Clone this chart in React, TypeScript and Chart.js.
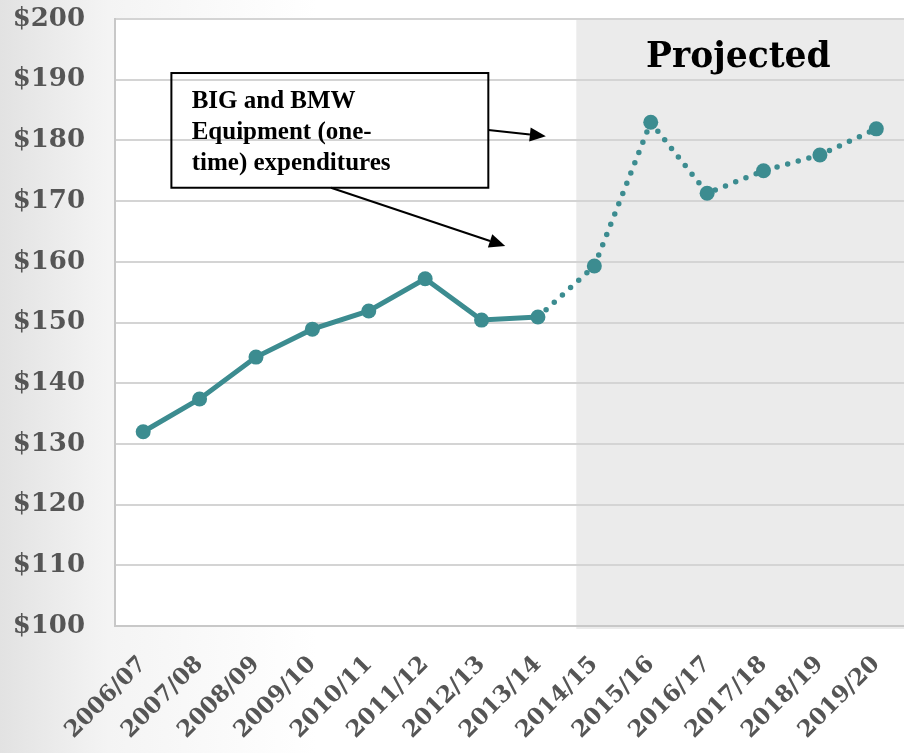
import React, { useEffect, useRef } from "react";
import { Chart, registerables } from "chart.js";

Chart.register(...registerables);

const categories = [
  "2006/07", "2007/08", "2008/09", "2009/10", "2010/11", "2011/12", "2012/13",
  "2013/14", "2014/15", "2015/16", "2016/17", "2017/18", "2018/19", "2019/20",
];
const spending = [132.0, 137.4, 144.3, 148.9, 151.9, 157.2, 150.4, 150.9, 159.3, 183.0, 171.3, 175.0, 177.6, 181.9];
const lastActualIndex = 7;
const projectedStart = 7.68;
const yMin = 100;
const yMax = 200;
const yStep = 10;
const projectedLabel = "Projected";
const annotationLines = ["BIG and BMW", "Equipment (one-", "time) expenditures"];

const TEAL = "#3c8c90";
const TICK_COLOR = "#555555";

function arrow(ctx: CanvasRenderingContext2D, x1: number, y1: number, x2: number, y2: number) {
  const ang = Math.atan2(y2 - y1, x2 - x1);
  const hl = 16, hw = 7;
  const bx = x2 - hl * Math.cos(ang);
  const by = y2 - hl * Math.sin(ang);
  ctx.beginPath();
  ctx.moveTo(x1, y1);
  ctx.lineTo(bx, by);
  ctx.stroke();
  ctx.beginPath();
  ctx.moveTo(x2, y2);
  ctx.lineTo(bx + hw * Math.sin(ang), by - hw * Math.cos(ang));
  ctx.lineTo(bx - hw * Math.sin(ang), by + hw * Math.cos(ang));
  ctx.closePath();
  ctx.fill();
}

const decorPlugin = {
  id: "decor",
  beforeDraw(chart: any) {
    const { ctx, chartArea: a, scales } = chart;
    const px = scales.x.getPixelForValue(projectedStart);
    ctx.save();
    ctx.fillStyle = "#ffffff";
    ctx.fillRect(a.left, a.top, px - a.left, a.bottom - a.top);
    ctx.fillStyle = "#ebebeb";
    ctx.fillRect(px, a.top, a.right - px, a.bottom - a.top + 3);
    ctx.restore();
  },
  afterDraw(chart: any) {
    const { ctx, chartArea: a, scales } = chart;
    const x = scales.x, y = scales.y;
    const px = x.getPixelForValue(projectedStart);
    ctx.save();
    // Projected title
    ctx.fillStyle = "#000";
    ctx.font = "bold 34.5px 'DejaVu Serif'";
    ctx.textAlign = "center";
    ctx.textBaseline = "alphabetic";
    ctx.fillText(projectedLabel, (px + a.right) / 2 - 2, y.getPixelForValue(192.1));

    // Annotation box
    const bl = x.getPixelForValue(0.5), br = x.getPixelForValue(6.12);
    const bt = y.getPixelForValue(191.1), bb = y.getPixelForValue(172.2);
    ctx.strokeStyle = "#000";
    ctx.lineWidth = 2;
    ctx.strokeRect(bl, bt, br - bl, bb - bt);
    ctx.font = "bold 25px 'Liberation Serif'";
    ctx.textAlign = "left";
    const tx = x.getPixelForValue(0.86);
    const baseVals = [185.3, 180.2, 175.1];
    annotationLines.forEach((l, i) => ctx.fillText(l, tx, y.getPixelForValue(baseVals[i])));

    // Arrows
    ctx.fillStyle = "#000";
    arrow(ctx, br, y.getPixelForValue(181.7), x.getPixelForValue(7.14), y.getPixelForValue(180.7));
    arrow(ctx, x.getPixelForValue(3.33), bb, x.getPixelForValue(6.42), y.getPixelForValue(162.6));
    ctx.restore();
  },
};

export default function App() {
  const ref = useRef<HTMLCanvasElement>(null);
  useEffect(() => {
    if (!ref.current) return;
    const chart = new Chart(ref.current, {
      type: "line",
      data: {
        labels: categories,
        datasets: [
          {
            data: spending,
            borderColor: TEAL,
            backgroundColor: TEAL,
            borderWidth: 5,
            pointRadius: 7.5,
            pointHoverRadius: 7.5,
            pointBorderWidth: 0,
            pointBackgroundColor: TEAL,
            tension: 0,
            borderCapStyle: "round",
            segment: {
              borderDash: (ctx: any) => (ctx.p0DataIndex >= lastActualIndex ? [0, 11] : undefined),
              borderWidth: (ctx: any) => (ctx.p0DataIndex >= lastActualIndex ? 5.5 : 5),
            },
          },
        ],
      },
      options: {
        responsive: false,
        animation: false,
        devicePixelRatio: 1,
        layout: { padding: { top: 19, right: 0, left: 0, bottom: 0 } },
        plugins: { legend: { display: false }, tooltip: { enabled: false } },
        scales: {
          x: {
            offset: true,
            grid: { display: false, drawTicks: false },
            border: { display: true, color: "#c8c8c8", width: 2 },
            ticks: {
              minRotation: 45,
              maxRotation: 45,
              padding: 25,
              color: TICK_COLOR,
              font: { family: "'DejaVu Serif'", size: 23, weight: "bold" },
            },
            afterFit: (s: any) => {
              s.height = 127;
              s.paddingLeft = 0;
              s.paddingRight = 0;
            },
          },
          y: {
            min: yMin,
            max: yMax,
            ticks: {
              stepSize: yStep,
              padding: 30,
              color: TICK_COLOR,
              font: { family: "'DejaVu Serif'", size: 26, weight: "bold" },
              callback: (v: any) => "$" + v,
            },
            grid: { color: "#d4d4d4", lineWidth: 2, drawTicks: false },
            border: { display: true, color: "#c8c8c8", width: 2 },
            afterFit: (s: any) => {
              s.width = 115;
              s.paddingTop = 0;
              s.paddingBottom = 0;
            },
          },
        },
      },
      plugins: [decorPlugin],
    });
    return () => chart.destroy();
  }, []);

  return (
    <div
      style={{
        position: "fixed",
        left: 0,
        top: 0,
        width: 904,
        height: 753,
        overflow: "hidden",
        background: "linear-gradient(to right, #e2e2e2 0%, #f4f4f4 12%, #ffffff 35%)",
      }}
    >
      <canvas ref={ref} width={912} height={753} style={{ display: "block", width: 912, height: 753 }} />
    </div>
  );
}
